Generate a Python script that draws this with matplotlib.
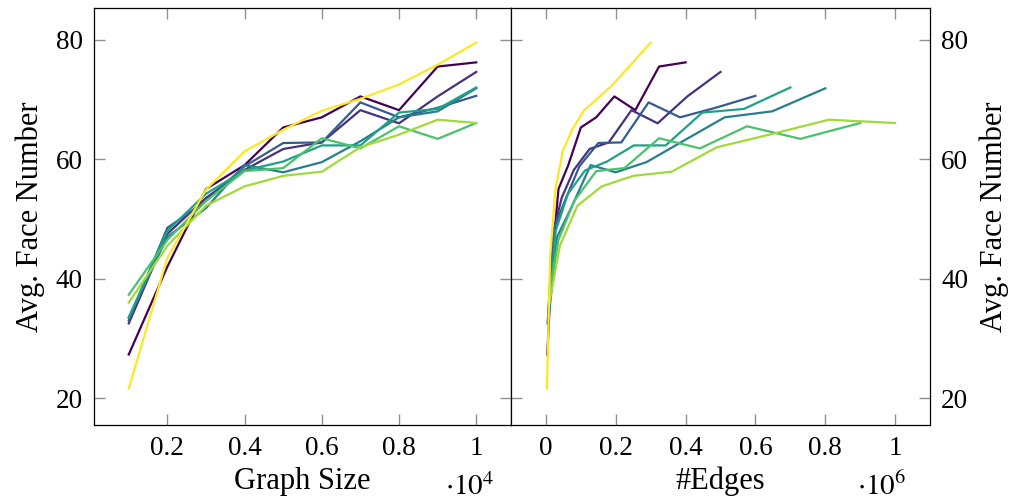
import numpy as np
import matplotlib
matplotlib.use("Agg")
import matplotlib.pyplot as plt

plt.rcParams['font.family'] = ['Liberation Serif', 'DejaVu Serif']
plt.rcParams['mathtext.fontset'] = 'stix'

# graph sizes (nodes)
sizes = [1000, 2000, 3000, 4000, 5000, 6000, 7000, 8000, 9000, 10000]

# number of edges for each series
edges_a = [3000, 12000, 27000, 48000, 75000, 108000, 147000, 192000, 243000, 300000]
edges_b = [4000, 16000, 36000, 64000, 100000, 144000, 196000, 256000, 324000, 400000]
edges_c = [5000, 20000, 45000, 80000, 125000, 180000, 245000, 320000, 405000, 500000]
edges_d = [6000, 24000, 54000, 96000, 150000, 216000, 294000, 384000, 486000, 600000]
edges_e = [7000, 28000, 63000, 112000, 175000, 252000, 343000, 448000, 567000, 700000]
edges_f = [8000, 32000, 72000, 128000, 200000, 288000, 392000, 512000, 648000, 800000]
edges_g = [9000, 36000, 81000, 144000, 225000, 324000, 441000, 576000, 729000, 900000]
edges_h = [10000, 40000, 90000, 160000, 250000, 360000, 490000, 640000, 810000, 1000000]

# average face number for each series
faces_a = [21.6, 43.5, 54.9, 61.3, 64.9, 68.1, 70.1, 72.5, 75.8, 79.5]
faces_b = [27.3, 42.0, 55.0, 59.0, 65.3, 67.0, 70.5, 68.2, 75.5, 76.2]
faces_c = [32.5, 47.5, 53.5, 58.2, 61.7, 62.8, 68.2, 66.0, 70.5, 74.6]
faces_d = [33.0, 48.5, 53.0, 58.8, 62.7, 62.8, 69.5, 67.0, 68.6, 70.6]
faces_e = [33.5, 48.0, 54.2, 58.1, 59.6, 62.3, 62.3, 67.8, 68.4, 72.0]
faces_f = [33.5, 47.0, 51.8, 59.0, 57.8, 59.5, 63.0, 67.0, 68.0, 71.85]
faces_g = [37.3, 46.5, 53.0, 58.0, 58.5, 63.5, 61.8, 65.5, 63.4, 66.05]
faces_h = [36.0, 45.5, 52.2, 55.45, 57.2, 57.9, 62.0, 64.1, 66.6, 66.05]

vir = plt.cm.viridis(np.linspace(0, 1, 8))
# (edges, faces, colour) in drawing order
series = [
    (edges_b, faces_b, vir[0]),
    (edges_c, faces_c, vir[1]),
    (edges_d, faces_d, vir[2]),
    (edges_f, faces_f, vir[3]),
    (edges_e, faces_e, vir[4]),
    (edges_g, faces_g, vir[5]),
    (edges_h, faces_h, vir[6]),
    (edges_a, faces_a, vir[7]),
]

fig = plt.figure(figsize=(10.18, 5.04), dpi=100)
ax1 = fig.add_axes([94/1018, 1-425/504, 417/1018, 417/504])
ax2 = fig.add_axes([511/1018, 1-425/504, 419/1018, 417/504])

x_sizes = np.array(sizes) / 1e4
for e, f, c in series:
    ax1.plot(x_sizes, f, color=c, lw=1.6)
    ax2.plot(np.array(e) / 1e6, f, color=c, lw=1.6)

for ax in (ax1, ax2):
    ax.set_ylim(15.5, 85.3)
    ax.set_yticks([20, 40, 60, 80])
    ax.tick_params(direction='in', length=8, width=1, color='#909090',
                   top=True, right=True, labelsize=19.5, pad=8)
    for s in ax.spines.values():
        s.set_linewidth(0.9)

ax1.set_xlim(0.01, 1.09)
ax1.set_xticks([0.2, 0.4, 0.6, 0.8, 1.0])
ax1.set_xticklabels(['0.2', '0.4', '0.6', '0.8', '1'])
ax1.set_xlabel('Graph Size', fontsize=22, labelpad=4)
ax1.set_ylabel('Avg. Face Number', fontsize=22, labelpad=8)

ax2.set_xlim(-0.1, 1.1)
ax2.set_xticks([0, 0.2, 0.4, 0.6, 0.8, 1.0])
ax2.set_xticklabels(['0', '0.2', '0.4', '0.6', '0.8', '1'])
ax2.set_xlabel('#Edges', fontsize=22, labelpad=4)
ax2.yaxis.set_label_position('right')
ax2.yaxis.tick_right()
ax2.tick_params(left=True, labelleft=False, labelright=True)
ax2.set_ylabel('Avg. Face Number', fontsize=22, labelpad=8)

ax1.text(0.9, -0.148, r'$\cdot 10^{4}$', transform=ax1.transAxes,
         fontsize=21, ha='center', va='center')
ax2.text(0.885, -0.148, r'$\cdot 10^{6}$', transform=ax2.transAxes,
         fontsize=21, ha='center', va='center')

fig.savefig('out.png', dpi=100)
